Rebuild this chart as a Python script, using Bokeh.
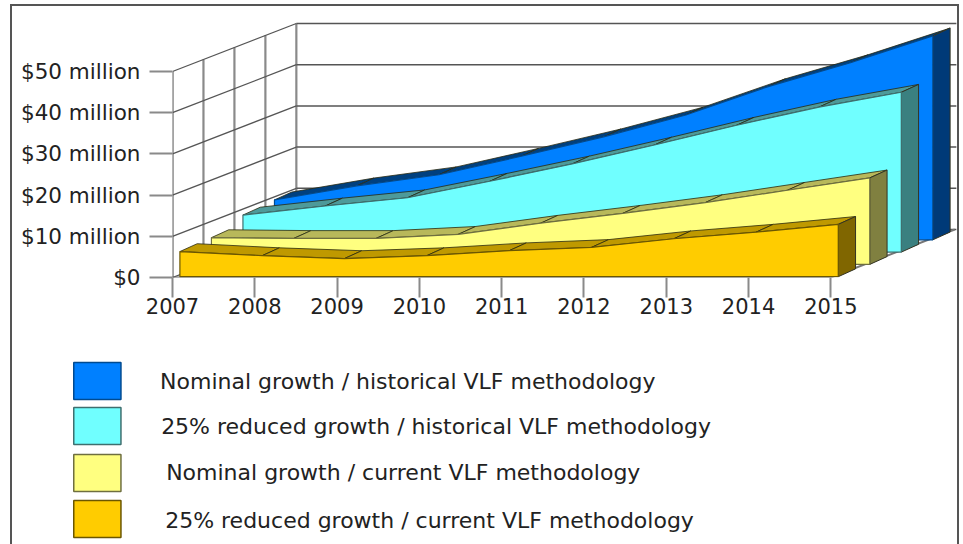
from bokeh.plotting import figure
from bokeh.layouts import column
from bokeh.models import FixedTicker, Range1d
from bokeh.core.properties import value
from bokeh.embed import file_html
from bokeh.resources import INLINE

years = [2007, 2008, 2009, 2010, 2011, 2012, 2013, 2014, 2015]
value_ticks = [0, 10, 20, 30, 40, 50]
value_labels = ["$0", "$10 million", "$20 million", "$30 million", "$40 million", "$50 million"]

nominal_historical = [9.7, 13.1, 15.8, 20.3, 25.0, 30.3, 37.2, 43.0, 49.5]
reduced_historical = [9.0, 11.2, 13.2, 17.2, 21.4, 26.0, 30.8, 35.2, 38.8]
nominal_current = [6.5, 6.3, 6.3, 7.3, 10.0, 12.4, 15.0, 18.0, 21.0]
reduced_current = [6.1, 5.1, 4.4, 5.1, 6.3, 7.1, 9.2, 10.8, 12.7]

names = ["Nominal growth / historical VLF methodology",
         "25% reduced growth / historical VLF methodology",
         "Nominal growth / current VLF methodology",
         "25% reduced growth / current VLF methodology"]
series = [nominal_historical, reduced_historical, nominal_current, reduced_current]
front_colors = ["#0080FF", "#70FFFF", "#FFFF80", "#FFCC00"]
side_colors = ["#003A78", "#3A8080", "#808040", "#806600"]
top_colors = ["#00407F", "#4D9A9A", "#B8B85A", "#BF9900"]
edge_colors = ["#004A90", "#3F6F6F", "#6F6F40", "#6B5600"]
slots = [3, 2, 1, 0]

WALL_DX, WALL_DY = 1.505, 11.65
WALL_STEPS = 4
SLOT_DX, SLOT_DY = 0.383, 2.98
BASE_DX, BASE_DY = 0.09, 0.2
THICK_DX, THICK_DY = 0.21, 1.9

FONT = "DejaVu Sans"
INK = "#222222"
GRID = "#555555"
POST = "#8a8a8a"
FRAME = "2px solid #555"

p = figure(width=949, height=336, output_backend="svg", toolbar_location=None,
           x_range=Range1d(2007, 2007 + 789 / 82.4), y_range=Range1d(0, 269 / 4.12),
           min_border_left=160, min_border_right=1, min_border_top=2, min_border_bottom=65,
           outline_line_color=None, background_fill_color="white")
p.grid.visible = False
p.styles = {"border-left": FRAME, "border-right": FRAME, "border-top": FRAME, "box-sizing": "border-box"}

p.xaxis.ticker = FixedTicker(ticks=years)
p.xaxis.major_label_overrides = {y: str(y) for y in years}
p.xaxis.axis_line_color = None
p.xaxis.major_tick_line_color = POST
p.xaxis.major_tick_line_width = 2
p.xaxis.major_tick_out = 20
p.xaxis.major_tick_in = 0
p.xaxis.minor_tick_line_color = None
p.xaxis.major_label_standoff = 0
p.yaxis.ticker = FixedTicker(ticks=value_ticks)
p.yaxis.major_label_overrides = dict(zip(value_ticks, value_labels))
p.yaxis.axis_line_color = None
p.yaxis.major_tick_line_color = POST
p.yaxis.major_tick_line_width = 2
p.yaxis.major_tick_out = 23
p.yaxis.major_tick_in = 0
p.yaxis.minor_tick_line_color = None
p.yaxis.major_label_standoff = 9
for ax, size in ((p.xaxis, "21px"), (p.yaxis, "21.5px")):
    ax.major_label_text_font = FONT
    ax.major_label_text_font_size = size
    ax.major_label_text_color = INK

x0, x1 = years[0], years[-1]
top = value_ticks[-1]
for i in range(WALL_STEPS + 1):
    dx = WALL_DX * i / WALL_STEPS
    dy = WALL_DY * i / WALL_STEPS
    p.line([x0 + dx, x0 + dx], [dy, top + dy], line_color=POST if i else "#666666", line_width=2.2)
for v in value_ticks:
    p.line([x0, x0 + WALL_DX], [v, v + WALL_DY], line_color=GRID, line_width=1.3)
    p.line([x0 + WALL_DX, x1 + WALL_DX + 0.02], [v + WALL_DY, v + WALL_DY], line_color=GRID, line_width=1.5)
p.line([x0 - 23 / 82.4, x1], [0, 0], line_color="#666666", line_width=2)
p.line([x1, x1 + WALL_DX], [0, WALL_DY], line_color="#777777", line_width=2)

for vals, slot, fc, sc, tc, ec in zip(series, slots, front_colors, side_colors, top_colors, edge_colors):
    ox = BASE_DX + SLOT_DX * slot
    oy = BASE_DY + SLOT_DY * slot
    xs = [y + ox for y in years]
    base = oy
    ys = [v + oy for v in vals]
    for a in range(len(xs) - 1):
        p.patch([xs[a], xs[a + 1], xs[a + 1] + THICK_DX, xs[a] + THICK_DX],
                [ys[a], ys[a + 1], ys[a + 1] + THICK_DY, ys[a] + THICK_DY],
                fill_color=tc, line_color="#2a2a10", line_width=0.8)
    p.patch([xs[-1], xs[-1] + THICK_DX, xs[-1] + THICK_DX, xs[-1]],
            [base, base + THICK_DY, ys[-1] + THICK_DY, ys[-1]],
            fill_color=sc, line_color="#333322", line_width=1)
    p.patch(xs + [xs[-1], xs[0]], ys + [base, base], fill_color=fc, line_color=ec, line_width=1.2)

# legend panel: page pixels minus this panel's origin
ORG_X, ORG_Y = 12, 340
lg = figure(width=949, height=204, output_backend="svg", toolbar_location=None,
            x_range=Range1d(ORG_X, ORG_X + 945), y_range=Range1d(ORG_Y + 204, ORG_Y),
            x_axis_location=None, y_axis_location=None, min_border=0,
            outline_line_color=None, background_fill_color="white")
lg.grid.visible = False
lg.styles = {"border-left": FRAME, "border-right": FRAME, "box-sizing": "border-box"}
label_left = [159, 160, 165, 164]
row_top = [362, 407, 454, 500]
label_mid = [381, 426, 472, 520]
for i, name in enumerate(names):
    lg.quad(left=73, right=120, top=row_top[i], bottom=row_top[i] + 37,
            fill_color=front_colors[i], line_color=edge_colors[i], line_width=1.5)
    lg.text(x=[label_left[i]], y=[label_mid[i]], text=[name], text_font=value(FONT),
            text_font_size="22px", text_color=INK, text_baseline="middle")

page = column(p, column(lg, spacing=0), spacing=0, margin=(4, 4, 0, 10))
open("out.html", "w").write(file_html(page, INLINE))
